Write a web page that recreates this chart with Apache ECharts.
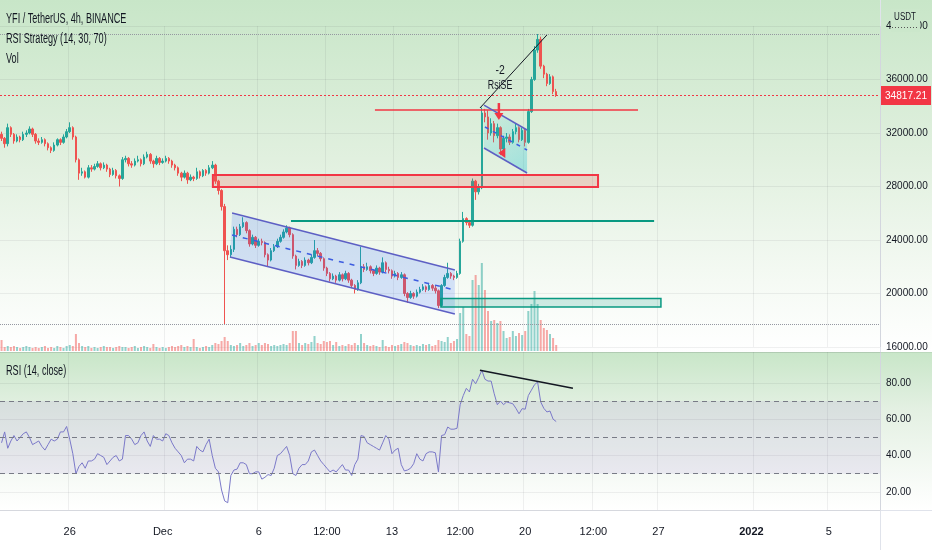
<!DOCTYPE html>
<html><head><meta charset="utf-8">
<script src="https://cdn.jsdelivr.net/npm/echarts@6.0.0/dist/echarts.min.js"></script>
<style>html,body{margin:0;padding:0;background:#fff}#c{width:932px;height:550px}</style>
</head><body><div id="c"></div><script>
const FONT = "'Liberation Sans',Arial,sans-serif";
const SLOTS = 284;
const firstOpen = 31900;
const lastPrice = 34817.21;
const close = [
31600,31200,32400,31900,31400,31700,31500,31900,32000,32300,
31900,31400,31300,31500,31200,30900,30700,31100,31500,31300,
31700,32100,32400,31700,30000,29000,29100,28700,29400,29300,
29500,29700,29400,29600,29300,28900,29200,28800,28600,30000,
30100,29700,29600,29900,30000,29700,30200,30400,29900,29700,
30100,29800,29900,30100,29900,29600,29400,29000,28700,29000,
28500,28700,28600,29100,28800,29200,29000,29400,29600,28400,
27700,26500,23200,22900,23300,24800,24400,25000,25300,24700,
23700,24200,23600,23900,23800,22900,22500,23200,23500,23900,
24200,24600,24900,24400,22800,22100,22400,22100,22500,22300,
22700,23200,23000,22600,21900,21500,21100,21300,21000,21400,
21100,21500,21000,20600,20300,20800,22000,21800,22000,21700,
21500,21900,21600,22300,21800,21700,21300,21500,21200,21400,
20000,19700,20000,19800,20100,20300,20500,20300,20600,20400,
20200,19100,20600,21200,21500,21300,21200,21500,23900,25600,
25300,25100,28400,27600,27900,33500,33200,32000,32700,31800,
32400,30800,31600,31700,31300,32100,32400,31500,32200,31300,
33600,36000,38200,39000,37000,36400,35700,36200,35100,34817.21];
const high = [
32100,31700,32700,32500,32000,31900,31800,32100,32200,32500,
32400,32000,31600,31700,31600,31300,31000,31300,31600,31600,
31900,32300,32800,32500,31800,30100,29400,29200,29600,29600,
29700,29900,29800,29800,29700,29400,29400,29300,28900,30200,
30300,30200,29900,30100,30300,30100,30400,30600,30500,30000,
30300,30200,30100,30300,30200,30000,29700,29500,29100,29200,
29100,28900,28800,29400,29200,29300,29300,29600,29900,29700,
28500,27800,26700,23600,23600,25000,25000,25200,25700,25400,
24800,24400,24300,24100,24100,23900,23000,23400,23700,24100,
24400,24800,25100,25000,24500,22900,22600,22500,22700,22600,
22900,24000,23400,23100,22700,22000,21600,21500,21400,21600,
21500,21700,21600,21100,20700,21000,23500,22200,22300,22100,
21800,22100,22000,22700,22400,22000,21800,21700,21600,21600,
21500,20100,20200,20100,20300,20500,20700,20600,20800,20700,
20600,20300,20700,21400,22300,21600,21400,21700,24100,26100,
25700,25500,28600,28500,28200,33900,33800,33700,33100,32900,
32700,32500,31800,32000,31900,32300,32700,32500,32400,32300,
33800,36200,38500,39400,39200,37100,36500,36400,36300,35300];
const low = [
31400,30900,31000,31700,31200,31300,31300,31400,31700,31900,
31700,31200,31100,31200,31000,30700,30500,30600,31000,31100,
31200,31600,32000,31500,29800,28500,28800,28600,28600,29100,
29200,29400,29200,29300,29100,28700,28800,28600,28000,28500,
29800,29500,29400,29500,29800,29500,29600,30100,29700,29400,
29600,29600,29700,29800,29700,29400,29200,28800,28400,28600,
28200,28400,28400,28500,28600,28700,28800,28900,29300,28200,
27400,26200,17700,22500,22700,23100,24200,24300,24900,24500,
23500,23600,23400,23500,23600,22700,22000,22400,23100,23400,
23800,24100,24500,24200,22600,21800,22000,21900,22000,22100,
22200,22600,22800,22400,21700,21300,20900,21000,20800,20900,
20900,21000,20800,20400,20000,20200,20700,21600,21700,21500,
21300,21400,21400,21500,21600,21500,21100,21200,21000,21100,
19800,19300,19600,19600,19700,20000,20200,20100,20200,20200,
20000,18900,19000,20500,21100,21100,21000,21100,21400,23800,
25100,24900,25000,27000,27400,27800,32800,31500,31800,31300,
31600,30350,30700,31300,31100,31200,31900,31300,31400,31000,
31200,33500,35900,38000,36800,36100,35500,35600,34900,34700];
const volume = [
11,4,5,4,5,4,3,4,5,4,
3,4,3,4,5,3,4,3,5,4,
3,5,6,5,17,8,5,4,5,3,
4,3,4,5,4,4,3,4,5,4,
4,3,4,5,3,4,5,4,3,7,
4,3,4,3,4,5,4,5,6,4,
5,4,12,4,3,4,5,4,6,8,
7,10,14,10,6,5,6,8,5,6,
8,5,6,8,6,8,7,5,6,5,
6,7,6,8,20,20,8,6,8,7,
9,15,8,7,10,9,10,6,9,5,
6,5,7,6,8,6,17,8,6,5,
6,5,4,11,5,4,6,5,6,7,
9,8,6,5,6,5,7,6,7,5,
6,11,10,9,14,8,10,12,38,44,
17,15,71,76,66,88,61,40,30,31,
28,30,20,13,14,20,15,18,16,20,
40,47,60,47,31,23,21,17,13,6];
const rsi = [
47,53,44,48,51,48,50,52,53,50,
46,47,48,45,43,46,49,48,49,53,
53,56,49,41,30,34,36,33,37,37,
38,41,40,39,35,37,39,40,37,38,
51,51,49,46,47,51,53,48,45,51,
49,49,48,52,51,47,44,42,40,36,
38,38,37,45,43,42,46,49,40,33,
31,21,15,14,29,32,32.5,36,36,35,
30,30,31,31,27,28,29.5,29,33,40,
41,43,45,40,30,29,33,35,35,37,
42,43,40,37,35,33,31,32,31,33,
35,32,32,29,35,38,51,50.5,47,46,
45,44,43,47,51,49,41,43,44,35,
31.5,32,33,35.5,41,38,37,41,42,42,
41.5,31,51,51.5,55.7,54.5,54.5,55,68,73,
77,75,82,79.5,83,87,82,81,81,74,
68,70,68,69.5,69,68.5,66,63,65.8,65.5,
73,76,79,80.5,69.5,66,64,64.5,60,58.7];
const timeLabels = [[22,'26'],[52,'Dec'],[83,'6'],[105,'12:00'],[126,'13'],[148,'12:00'],[169,'20'],[191,'12:00'],[212,'27'],[242,'2022'],[267,'5']];
const boldLabels = ['2022'];
const gridSlots = [22,53,83,105,127,148,169,191,212,243,267];
const rsiLevels = [70,50,30];
// drawings (slot index, price)
const redZone = {s0:68.2, s1:192.5, p0:27960, p1:28860};
const redLine = {s0:120.5, s1:205.4, p:33720};
const tealLine = {s0:93.4, s1:210.6, p:25420};
const tealZone = {s0:141.8, s1:212.8, p0:18990, p1:19630};
const channel = {upper:[[74.4,26020],[146.3,21760]], lower:[[73.7,22730],[146.3,18470]], mid:[[74.4,24370],[146.3,20260]]};
const flag = {upper:[[155.7,34090],[169.6,32225]], lower:[[155.7,30880],[169.6,29010]], mid:[[156,32450],[169.6,30730]]};
const trendPrice = [[154.4,33870],[176.0,39330]];
const trendRsi = [[154.4,87],[184.4,77]];
const signal = {s:160.9, pTop:36710, pBot:35590, arrowS:160.5, arrowP0:34240, arrowP1:32970, triS:161.6, triP:30500};

const UP='#26a69a', DN='#ef5350', GRID='rgba(42,46,57,0.07)', TXT='#131722', RED='#f23645';
const open = close.map((c,i)=> i===0 ? firstOpen : close[i-1]);
const candles = close.map((c,i)=>[open[i], c, low[i], high[i]]);
const cats = Array.from({length:SLOTS},(_,i)=>String(i));
const labelMap = new Map(timeLabels);
const gridSet = new Set(gridSlots);
const hiMax = Math.max(...high), loMin = Math.min(...low);

const chart = echarts.init(document.getElementById('c'));
const option = {
  animation:false,
  backgroundColor:'#ffffff',
  textStyle:{fontFamily:FONT},
  grid:[
    {left:0,right:52,top:26,height:321,outerBoundsMode:'none'},
    {left:0,right:52,top:251,height:100,outerBoundsMode:'none'},
    {left:0,right:52,top:352,height:158,outerBoundsMode:'none'}
  ],
  xAxis:[
    {type:'category',gridIndex:0,data:cats,boundaryGap:true,axisLine:{show:false},axisTick:{show:false},axisLabel:{show:false},
     splitLine:{show:true,interval:(i)=>gridSet.has(i),lineStyle:{color:GRID}}},
    {type:'category',gridIndex:1,data:cats,boundaryGap:true,show:false},
    {type:'category',gridIndex:2,data:cats,boundaryGap:true,axisLine:{show:true,lineStyle:{color:'#d6d8de'}},axisTick:{show:false},
     axisLabel:{interval:(i)=>labelMap.has(i),
       formatter:(v)=>{const t=labelMap.get(Number(v))||''; return boldLabels.includes(t)?'{b|'+t+'}':t;},
       rich:{b:{fontWeight:'bold',fontSize:11,fontFamily:FONT,color:TXT}},
       color:TXT,fontSize:11,fontFamily:FONT,margin:16},
     splitLine:{show:true,interval:(i)=>gridSet.has(i),lineStyle:{color:GRID}}}
  ],
  yAxis:[
    {type:'value',gridIndex:0,position:'right',min:16000,max:40000,interval:4000,axisLine:{show:false},axisTick:{show:false},
     axisLabel:{formatter:(v)=>v.toFixed(2),color:TXT,fontSize:10,fontFamily:FONT,margin:6},splitLine:{lineStyle:{color:GRID}}},
    {type:'value',gridIndex:1,min:0,max:100,show:false,splitLine:{show:false}},
    {type:'value',gridIndex:2,position:'right',min:10,max:97,interval:10,axisLine:{show:false},axisTick:{show:false},
     axisLabel:{formatter:(v)=>(v%20===0&&v>=20&&v<=80)?v.toFixed(2):'',color:TXT,fontSize:10,fontFamily:FONT,margin:6,showMaxLabel:false,showMinLabel:false},
     splitLine:{lineStyle:{color:['transparent',GRID]}}}
  ],
  series:[
    {type:'bar',xAxisIndex:1,yAxisIndex:1,barWidth:2,z:2,silent:true,
     data:volume.map((v,i)=>({value:v,itemStyle:{color:close[i]>=open[i]?'rgba(38,166,154,0.5)':'rgba(239,83,80,0.5)'}}))},
    {type:'candlestick',xAxisIndex:0,yAxisIndex:0,barWidth:2,z:3,data:candles,
     itemStyle:{color:UP,color0:DN,borderColor:UP,borderColor0:DN,borderWidth:1},
     markLine:{symbol:['none','none'],silent:true,animation:false,
       lineStyle:{color:'#9598a1',type:'dotted',width:1},
       data:[
        {yAxis:hiMax,label:{show:false}},
        {yAxis:loMin,label:{show:false}}
       ]}},
    {type:'line',xAxisIndex:2,yAxisIndex:2,data:rsi,symbol:'none',z:3,lineStyle:{color:'#7b79c9',width:1},
     markArea:{silent:true,itemStyle:{color:'rgba(126,87,194,0.10)'},data:[[{yAxis:30},{yAxis:70}]]},
     markLine:{symbol:['none','none'],silent:true,label:{show:false},lineStyle:{color:'#787b86',type:[5,4],width:1},
       data:rsiLevels.map(v=>({yAxis:v}))}}
  ]
};
chart.setOption(option);

// pixel helpers through the chart scales
const x0 = chart.convertToPixel({xAxisIndex:0}, '0');
const x100 = chart.convertToPixel({xAxisIndex:0}, '100');
const sp = (x100-x0)/100;
const X = s => x0 + s*sp;
const Y = (p,yi) => chart.convertToPixel({yAxisIndex:yi||0}, p);
const P = (pt,yi) => [X(pt[0]), Y(pt[1],yi)];

const g = [];
// backgrounds
g.push({type:'rect',z:-10,silent:true,shape:{x:0,y:0,width:932,height:352},
  style:{fill:{type:'linear',x:0,y:0,x2:0,y2:1,colorStops:[{offset:0,color:'#c8e6c8'},{offset:0.45,color:'#e1f0df'},{offset:0.8,color:'#f5faf4'},{offset:1,color:'#ffffff'}]}}});
g.push({type:'rect',z:-10,silent:true,shape:{x:0,y:352,width:932,height:158},
  style:{fill:{type:'linear',x:0,y:0,x2:0,y2:1,colorStops:[{offset:0,color:'#c8e6c8'},{offset:0.35,color:'#e3f0e2'},{offset:1,color:'#ffffff'}]}}});
g.push({type:'line',z:-5,silent:true,shape:{x1:880.5,y1:0,x2:880.5,y2:550},style:{stroke:'#e0e3eb',lineWidth:1}});
g.push({type:'line',z:-5,silent:true,shape:{x1:0,y1:352.5,x2:932,y2:352.5},style:{stroke:'rgba(42,46,57,0.08)',lineWidth:1}});
g.push({type:'line',z:-5,silent:true,shape:{x1:0,y1:510.5,x2:932,y2:510.5},style:{stroke:'#e0e3eb',lineWidth:1}});
// last price dotted line and price tag
const lpY = Math.round(Y(lastPrice)) + 0.5;
g.push({type:'line',z:5,silent:true,shape:{x1:0,y1:lpY,x2:880,y2:lpY},style:{stroke:RED,lineWidth:1,lineDash:[2,2]}});
g.push({type:'rect',z:20,silent:true,shape:{x:881,y:lpY-9.5,width:50,height:19},style:{fill:RED}});
g.push({type:'text',z:21,silent:true,x:906,y:lpY,scaleX:0.92,style:{text:lastPrice.toFixed(2),fill:'#ffffff',fontSize:11,fontFamily:FONT,align:'center',verticalAlign:'middle',textAlign:'center',textVerticalAlign:'middle'}});

// drawings
const rz = redZone;
g.push({type:'rect',z:10,silent:true,shape:{x:X(rz.s0),y:Y(rz.p1),width:X(rz.s1)-X(rz.s0),height:Y(rz.p0)-Y(rz.p1)},
  style:{fill:'rgba(240,80,70,0.20)',stroke:RED,lineWidth:2}});
const tz = tealZone;
g.push({type:'rect',z:10,silent:true,shape:{x:X(tz.s0),y:Y(tz.p1),width:X(tz.s1)-X(tz.s0),height:Y(tz.p0)-Y(tz.p1)},
  style:{fill:'rgba(8,153,129,0.18)',stroke:'#089981',lineWidth:1.5}});
g.push({type:'line',z:10,silent:true,shape:{x1:X(redLine.s0),y1:Y(redLine.p),x2:X(redLine.s1),y2:Y(redLine.p)},style:{stroke:RED,lineWidth:1.5}});
g.push({type:'line',z:10,silent:true,shape:{x1:X(tealLine.s0),y1:Y(tealLine.p),x2:X(tealLine.s1),y2:Y(tealLine.p)},style:{stroke:'#089981',lineWidth:2}});
// channel
g.push({type:'polygon',z:9,silent:true,shape:{points:[P(channel.upper[0]),P(channel.upper[1]),P(channel.lower[1]),P(channel.lower[0])]},
  style:{fill:'rgba(41,98,255,0.17)'}});
g.push({type:'polyline',z:10,silent:true,shape:{points:[P(channel.upper[0]),P(channel.upper[1])]},style:{stroke:'#5d5fc4',lineWidth:1.5,fill:null}});
g.push({type:'polyline',z:10,silent:true,shape:{points:[P(channel.lower[0]),P(channel.lower[1])]},style:{stroke:'#5d5fc4',lineWidth:1.5,fill:null}});
g.push({type:'polyline',z:10,silent:true,shape:{points:[P(channel.mid[0]),P(channel.mid[1])]},style:{stroke:'#3d5ce0',lineWidth:1.5,lineDash:[5,6],fill:null}});
// flag
g.push({type:'polygon',z:9,silent:true,shape:{points:[P(flag.upper[0]),P(flag.upper[1]),P(flag.lower[1]),P(flag.lower[0])]},
  style:{fill:{type:'linear',x:0,y:0,x2:1,y2:1,colorStops:[{offset:0,color:'rgba(0,188,212,0.04)'},{offset:1,color:'rgba(0,188,212,0.30)'}]}}});
g.push({type:'polyline',z:10,silent:true,shape:{points:[P(flag.upper[0]),P(flag.upper[1])]},style:{stroke:'#5d5fc4',lineWidth:1.5,fill:null}});
g.push({type:'polyline',z:10,silent:true,shape:{points:[P(flag.lower[0]),P(flag.lower[1])]},style:{stroke:'#5d5fc4',lineWidth:1.5,fill:null}});
g.push({type:'polyline',z:10,silent:true,shape:{points:[P(flag.mid[0]),P(flag.mid[1])]},style:{stroke:'#3d5ce0',lineWidth:1.5,lineDash:[4,5],fill:null}});
// trend lines
g.push({type:'polyline',z:11,silent:true,shape:{points:trendPrice.map(p=>P(p))},style:{stroke:'#131722',lineWidth:1,fill:null}});
g.push({type:'polyline',z:11,silent:true,shape:{points:trendRsi.map(p=>P(p,2))},style:{stroke:'#131722',lineWidth:1.5,fill:null}});
// signal
const ax = X(signal.arrowS), ay0 = Y(signal.arrowP0), ay1 = Y(signal.arrowP1);
g.push({type:'line',z:12,silent:true,shape:{x1:ax,y1:ay0,x2:ax,y2:ay1-5},style:{stroke:RED,lineWidth:2.5}});
g.push({type:'polygon',z:12,silent:true,shape:{points:[[ax-4.5,ay1-7],[ax+4.5,ay1-7],[ax,ay1]]},style:{fill:RED}});
const tx = X(signal.triS), ty = Y(signal.triP);
g.push({type:'polygon',z:12,silent:true,shape:{points:[[tx-4,ty],[tx+3,ty-5],[tx+3,ty+5]]},style:{fill:RED}});
const TT = (t,x,y,fs,sx,align)=>({type:'text',z:20,silent:true,x:x,y:y,scaleX:sx,
  style:{text:t,fill:TXT,fontSize:fs,fontFamily:FONT,align:align,verticalAlign:'middle',textAlign:align,textVerticalAlign:'middle'}});
g.push(TT('-2',X(signal.s),Y(signal.pTop),13,0.8,'center'));
g.push(TT('RsiSE',X(signal.s),Y(signal.pBot),13,0.68,'center'));
// titles
g.push(TT('YFI / TetherUS, 4h, BINANCE',6,19,14,0.65,'left'));
g.push(TT('RSI Strategy (14, 30, 70)',6,39,14,0.65,'left'));
g.push(TT('Vol',6,59,14,0.65,'left'));
g.push(TT('RSI (14, close)',6,371,14,0.65,'left'));
// USDT badge over top price label
g.push({type:'rect',z:20,silent:true,shape:{x:891,y:9,width:29,height:23},style:{fill:'#cbe7cb'}});
g.push(TT('USDT',905,17,10,0.8,'center'));
g.push({type:'line',z:21,silent:true,shape:{x1:892,y1:27.5,x2:919,y2:27.5},style:{stroke:'#555',lineWidth:1,lineDash:[1,2]}});

chart.setOption({graphic:{elements:g}});
</script></body></html>
